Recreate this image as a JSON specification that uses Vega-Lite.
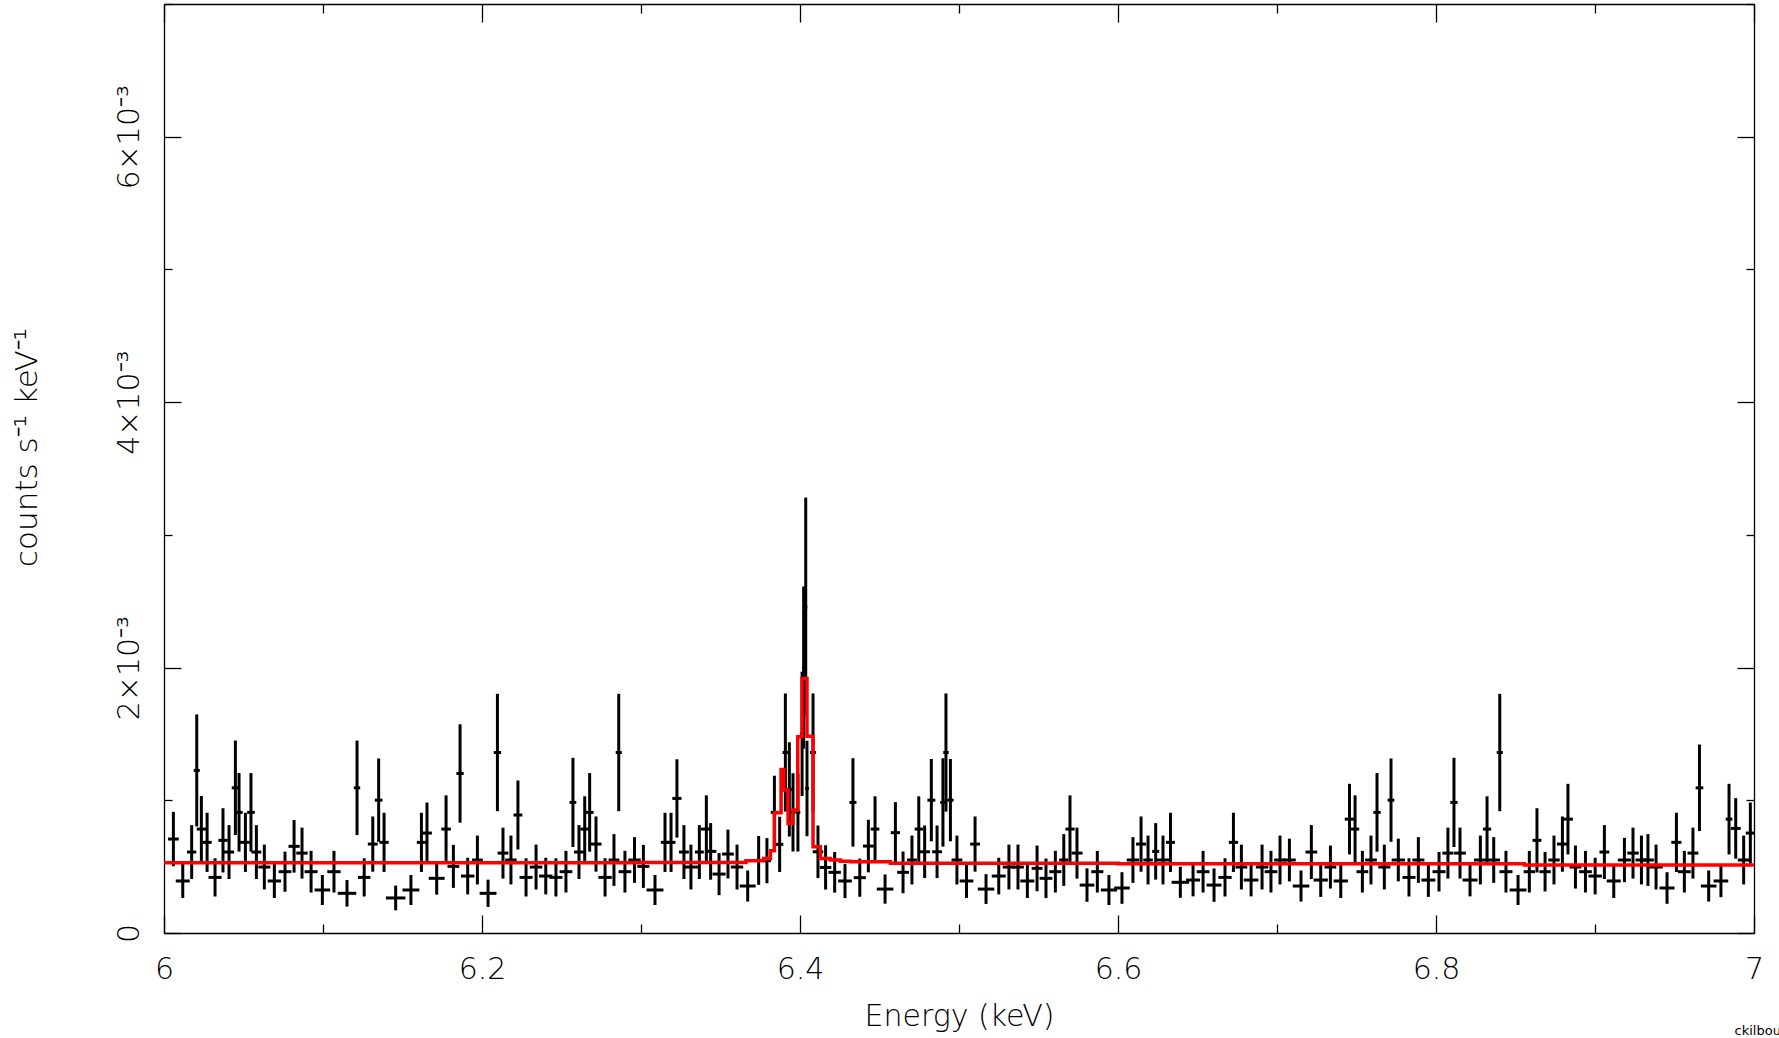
{
  "$schema": "https://vega.github.io/schema/vega-lite/v6.json",
  "width": 1590,
  "height": 929,
  "autosize": "none",
  "padding": {"left": 164, "top": 4, "right": 25, "bottom": 105},
  "background": "white",
  "config": {
    "view": {"stroke": null},
    "axis": {
      "grid": false,
      "domainColor": "black",
      "domainWidth": 1.3,
      "tickColor": "black",
      "tickWidth": 1.3,
      "labelFont": "DejaVu Sans",
      "labelFontWeight": 200,
      "labelFontSize": 30,
      "labelColor": "black",
      "labelFlush": false,
      "labelOverlap": false,
      "labelBound": false,
      "titleFont": "DejaVu Sans",
      "titleFontWeight": 200,
      "titleFontSize": 30,
      "titleColor": "black"
    }
  },
  "title": {
    "text": "ckilbourne",
    "orient": "bottom",
    "anchor": "end",
    "align": "left",
    "dx": -29,
    "dy": 4,
    "offset": 0,
    "baseline": "alphabetic",
    "font": "DejaVu Sans",
    "fontSize": 13,
    "fontWeight": "normal",
    "color": "black"
  },
  "datasets": {
    "spectrum": [
      {"energy": 6.0059, "halfwidth": 0.0034, "rate": 0.000708, "err": 0.000205},
      {"energy": 6.0118, "halfwidth": 0.0044, "rate": 0.000392, "err": 0.000128},
      {"energy": 6.0174, "halfwidth": 0.0029, "rate": 0.000610, "err": 0.000203},
      {"energy": 6.0206, "halfwidth": 0.0019, "rate": 0.001225, "err": 0.000422},
      {"energy": 6.0235, "halfwidth": 0.0029, "rate": 0.000783, "err": 0.000250},
      {"energy": 6.0271, "halfwidth": 0.0029, "rate": 0.000683, "err": 0.000223},
      {"energy": 6.0321, "halfwidth": 0.0041, "rate": 0.000419, "err": 0.000144},
      {"energy": 6.0371, "halfwidth": 0.0029, "rate": 0.000698, "err": 0.000242},
      {"energy": 6.0409, "halfwidth": 0.0032, "rate": 0.000610, "err": 0.000203},
      {"energy": 6.0449, "halfwidth": 0.0023, "rate": 0.001094, "err": 0.000356},
      {"energy": 6.0472, "halfwidth": 0.0023, "rate": 0.000909, "err": 0.000296},
      {"energy": 6.0512, "halfwidth": 0.0037, "rate": 0.000683, "err": 0.000223},
      {"energy": 6.0547, "halfwidth": 0.0024, "rate": 0.000909, "err": 0.000296},
      {"energy": 6.0581, "halfwidth": 0.0031, "rate": 0.000610, "err": 0.000203},
      {"energy": 6.0631, "halfwidth": 0.0038, "rate": 0.000497, "err": 0.000169},
      {"energy": 6.0694, "halfwidth": 0.0042, "rate": 0.000392, "err": 0.000128},
      {"energy": 6.0761, "halfwidth": 0.0040, "rate": 0.000462, "err": 0.000151},
      {"energy": 6.0818, "halfwidth": 0.0035, "rate": 0.000653, "err": 0.000198},
      {"energy": 6.0868, "halfwidth": 0.0036, "rate": 0.000602, "err": 0.000192},
      {"energy": 6.0925, "halfwidth": 0.0041, "rate": 0.000462, "err": 0.000157},
      {"energy": 6.0996, "halfwidth": 0.0049, "rate": 0.000324, "err": 0.000113},
      {"energy": 6.1069, "halfwidth": 0.0042, "rate": 0.000462, "err": 0.000157},
      {"energy": 6.1151, "halfwidth": 0.0058, "rate": 0.000299, "err": 0.000100},
      {"energy": 6.1214, "halfwidth": 0.0020, "rate": 0.001094, "err": 0.000356},
      {"energy": 6.1259, "halfwidth": 0.0039, "rate": 0.000419, "err": 0.000144},
      {"energy": 6.1313, "halfwidth": 0.0031, "rate": 0.000670, "err": 0.000208},
      {"energy": 6.1350, "halfwidth": 0.0024, "rate": 0.001001, "err": 0.000314},
      {"energy": 6.1384, "halfwidth": 0.0029, "rate": 0.000683, "err": 0.000223},
      {"energy": 6.1457, "halfwidth": 0.0061, "rate": 0.000264, "err": 0.000093},
      {"energy": 6.1553, "halfwidth": 0.0053, "rate": 0.000324, "err": 0.000113},
      {"energy": 6.1619, "halfwidth": 0.0029, "rate": 0.000683, "err": 0.000223},
      {"energy": 6.1654, "halfwidth": 0.0031, "rate": 0.000753, "err": 0.000230},
      {"energy": 6.1715, "halfwidth": 0.0050, "rate": 0.000412, "err": 0.000123},
      {"energy": 6.1774, "halfwidth": 0.0030, "rate": 0.000783, "err": 0.000254},
      {"energy": 6.1820, "halfwidth": 0.0037, "rate": 0.000502, "err": 0.000162},
      {"energy": 6.1862, "halfwidth": 0.0023, "rate": 0.001202, "err": 0.000371},
      {"energy": 6.1910, "halfwidth": 0.0042, "rate": 0.000429, "err": 0.000138},
      {"energy": 6.1971, "halfwidth": 0.0034, "rate": 0.000550, "err": 0.000184},
      {"energy": 6.2038, "halfwidth": 0.0053, "rate": 0.000299, "err": 0.000103},
      {"energy": 6.2097, "halfwidth": 0.0023, "rate": 0.001360, "err": 0.000442},
      {"energy": 6.2132, "halfwidth": 0.0034, "rate": 0.000602, "err": 0.000192},
      {"energy": 6.2182, "halfwidth": 0.0036, "rate": 0.000550, "err": 0.000184},
      {"energy": 6.2226, "halfwidth": 0.0028, "rate": 0.000889, "err": 0.000260},
      {"energy": 6.2277, "halfwidth": 0.0041, "rate": 0.000419, "err": 0.000144},
      {"energy": 6.2340, "halfwidth": 0.0039, "rate": 0.000497, "err": 0.000169},
      {"energy": 6.2401, "halfwidth": 0.0042, "rate": 0.000429, "err": 0.000138},
      {"energy": 6.2465, "halfwidth": 0.0041, "rate": 0.000419, "err": 0.000144},
      {"energy": 6.2528, "halfwidth": 0.0040, "rate": 0.000462, "err": 0.000157},
      {"energy": 6.2572, "halfwidth": 0.0021, "rate": 0.000984, "err": 0.000336},
      {"energy": 6.2610, "halfwidth": 0.0031, "rate": 0.000610, "err": 0.000203},
      {"energy": 6.2646, "halfwidth": 0.0028, "rate": 0.000783, "err": 0.000247},
      {"energy": 6.2677, "halfwidth": 0.0025, "rate": 0.000909, "err": 0.000296},
      {"energy": 6.2717, "halfwidth": 0.0035, "rate": 0.000670, "err": 0.000208},
      {"energy": 6.2774, "halfwidth": 0.0042, "rate": 0.000419, "err": 0.000144},
      {"energy": 6.2830, "halfwidth": 0.0034, "rate": 0.000550, "err": 0.000195},
      {"energy": 6.2860, "halfwidth": 0.0019, "rate": 0.001360, "err": 0.000442},
      {"energy": 6.2899, "halfwidth": 0.0040, "rate": 0.000462, "err": 0.000157},
      {"energy": 6.2959, "halfwidth": 0.0039, "rate": 0.000550, "err": 0.000172},
      {"energy": 6.3015, "halfwidth": 0.0038, "rate": 0.000502, "err": 0.000162},
      {"energy": 6.3088, "halfwidth": 0.0053, "rate": 0.000324, "err": 0.000113},
      {"energy": 6.3151, "halfwidth": 0.0026, "rate": 0.000683, "err": 0.000223},
      {"energy": 6.3189, "halfwidth": 0.0028, "rate": 0.000683, "err": 0.000223},
      {"energy": 6.3226, "halfwidth": 0.0029, "rate": 0.001014, "err": 0.000295},
      {"energy": 6.3270, "halfwidth": 0.0031, "rate": 0.000610, "err": 0.000203},
      {"energy": 6.3314, "halfwidth": 0.0047, "rate": 0.000497, "err": 0.000169},
      {"energy": 6.3367, "halfwidth": 0.0028, "rate": 0.000610, "err": 0.000203},
      {"energy": 6.3411, "halfwidth": 0.0034, "rate": 0.000783, "err": 0.000254},
      {"energy": 6.3438, "halfwidth": 0.0036, "rate": 0.000615, "err": 0.000213},
      {"energy": 6.3491, "halfwidth": 0.0041, "rate": 0.000444, "err": 0.000159},
      {"energy": 6.3547, "halfwidth": 0.0037, "rate": 0.000595, "err": 0.000184},
      {"energy": 6.3604, "halfwidth": 0.0039, "rate": 0.000497, "err": 0.000169},
      {"energy": 6.3671, "halfwidth": 0.0050, "rate": 0.000354, "err": 0.000117},
      {"energy": 6.3740, "halfwidth": 0.0025, "rate": 0.000547, "err": 0.000184},
      {"energy": 6.3792, "halfwidth": 0.0025, "rate": 0.000545, "err": 0.000170},
      {"energy": 6.3839, "halfwidth": 0.0023, "rate": 0.000909, "err": 0.000276},
      {"energy": 6.3872, "halfwidth": 0.0023, "rate": 0.000668, "err": 0.000208},
      {"energy": 6.3908, "halfwidth": 0.0018, "rate": 0.001360, "err": 0.000445},
      {"energy": 6.3933, "halfwidth": 0.0017, "rate": 0.001082, "err": 0.000355},
      {"energy": 6.3956, "halfwidth": 0.0015, "rate": 0.000909, "err": 0.000295},
      {"energy": 6.3987, "halfwidth": 0.0015, "rate": 0.000909, "err": 0.000295},
      {"energy": 6.4013, "halfwidth": 0.0012, "rate": 0.001501, "err": 0.000468},
      {"energy": 6.4023, "halfwidth": 0.0010, "rate": 0.002000, "err": 0.000611},
      {"energy": 6.4036, "halfwidth": 0.0010, "rate": 0.002455, "err": 0.000826},
      {"energy": 6.4044, "halfwidth": 0.0012, "rate": 0.001089, "err": 0.000360},
      {"energy": 6.4082, "halfwidth": 0.0019, "rate": 0.001360, "err": 0.000445},
      {"energy": 6.4113, "halfwidth": 0.0033, "rate": 0.000612, "err": 0.000198},
      {"energy": 6.4161, "halfwidth": 0.0036, "rate": 0.000494, "err": 0.000167},
      {"energy": 6.4218, "halfwidth": 0.0039, "rate": 0.000457, "err": 0.000153},
      {"energy": 6.4283, "halfwidth": 0.0043, "rate": 0.000392, "err": 0.000129},
      {"energy": 6.4333, "halfwidth": 0.0022, "rate": 0.000984, "err": 0.000333},
      {"energy": 6.4376, "halfwidth": 0.0038, "rate": 0.000417, "err": 0.000144},
      {"energy": 6.4430, "halfwidth": 0.0034, "rate": 0.000655, "err": 0.000198},
      {"energy": 6.4472, "halfwidth": 0.0027, "rate": 0.000783, "err": 0.000247},
      {"energy": 6.4535, "halfwidth": 0.0052, "rate": 0.000331, "err": 0.000110},
      {"energy": 6.4600, "halfwidth": 0.0029, "rate": 0.000756, "err": 0.000230},
      {"energy": 6.4648, "halfwidth": 0.0037, "rate": 0.000457, "err": 0.000157},
      {"energy": 6.4704, "halfwidth": 0.0031, "rate": 0.000550, "err": 0.000184},
      {"energy": 6.4747, "halfwidth": 0.0026, "rate": 0.000783, "err": 0.000247},
      {"energy": 6.4784, "halfwidth": 0.0034, "rate": 0.000612, "err": 0.000198},
      {"energy": 6.4826, "halfwidth": 0.0025, "rate": 0.001001, "err": 0.000310},
      {"energy": 6.4862, "halfwidth": 0.0031, "rate": 0.000612, "err": 0.000198},
      {"energy": 6.4899, "halfwidth": 0.0017, "rate": 0.000984, "err": 0.000333},
      {"energy": 6.4918, "halfwidth": 0.0017, "rate": 0.001360, "err": 0.000445},
      {"energy": 6.4946, "halfwidth": 0.0020, "rate": 0.001001, "err": 0.000310},
      {"energy": 6.4987, "halfwidth": 0.0034, "rate": 0.000550, "err": 0.000184},
      {"energy": 6.5047, "halfwidth": 0.0043, "rate": 0.000392, "err": 0.000128},
      {"energy": 6.5101, "halfwidth": 0.0031, "rate": 0.000670, "err": 0.000208},
      {"energy": 6.5170, "halfwidth": 0.0052, "rate": 0.000331, "err": 0.000112},
      {"energy": 6.5250, "halfwidth": 0.0044, "rate": 0.000429, "err": 0.000138},
      {"energy": 6.5314, "halfwidth": 0.0039, "rate": 0.000497, "err": 0.000169},
      {"energy": 6.5371, "halfwidth": 0.0037, "rate": 0.000497, "err": 0.000169},
      {"energy": 6.5430, "halfwidth": 0.0044, "rate": 0.000392, "err": 0.000128},
      {"energy": 6.5491, "halfwidth": 0.0034, "rate": 0.000487, "err": 0.000172},
      {"energy": 6.5547, "halfwidth": 0.0040, "rate": 0.000412, "err": 0.000149},
      {"energy": 6.5606, "halfwidth": 0.0038, "rate": 0.000462, "err": 0.000157},
      {"energy": 6.5659, "halfwidth": 0.0029, "rate": 0.000550, "err": 0.000195},
      {"energy": 6.5698, "halfwidth": 0.0029, "rate": 0.000783, "err": 0.000254},
      {"energy": 6.5742, "halfwidth": 0.0035, "rate": 0.000602, "err": 0.000192},
      {"energy": 6.5805, "halfwidth": 0.0046, "rate": 0.000361, "err": 0.000126},
      {"energy": 6.5870, "halfwidth": 0.0038, "rate": 0.000462, "err": 0.000157},
      {"energy": 6.5943, "halfwidth": 0.0051, "rate": 0.000324, "err": 0.000113},
      {"energy": 6.6025, "halfwidth": 0.0049, "rate": 0.000339, "err": 0.000119},
      {"energy": 6.6094, "halfwidth": 0.0039, "rate": 0.000550, "err": 0.000172},
      {"energy": 6.6145, "halfwidth": 0.0032, "rate": 0.000670, "err": 0.000208},
      {"energy": 6.6189, "halfwidth": 0.0030, "rate": 0.000550, "err": 0.000184},
      {"energy": 6.6237, "halfwidth": 0.0022, "rate": 0.000615, "err": 0.000213},
      {"energy": 6.6283, "halfwidth": 0.0040, "rate": 0.000550, "err": 0.000184},
      {"energy": 6.6330, "halfwidth": 0.0028, "rate": 0.000683, "err": 0.000223},
      {"energy": 6.6392, "halfwidth": 0.0055, "rate": 0.000382, "err": 0.000117},
      {"energy": 6.6472, "halfwidth": 0.0044, "rate": 0.000399, "err": 0.000123},
      {"energy": 6.6535, "halfwidth": 0.0040, "rate": 0.000462, "err": 0.000157},
      {"energy": 6.6604, "halfwidth": 0.0047, "rate": 0.000361, "err": 0.000126},
      {"energy": 6.6673, "halfwidth": 0.0042, "rate": 0.000419, "err": 0.000144},
      {"energy": 6.6726, "halfwidth": 0.0029, "rate": 0.000683, "err": 0.000223},
      {"energy": 6.6776, "halfwidth": 0.0037, "rate": 0.000497, "err": 0.000169},
      {"energy": 6.6837, "halfwidth": 0.0046, "rate": 0.000399, "err": 0.000123},
      {"energy": 6.6906, "halfwidth": 0.0039, "rate": 0.000497, "err": 0.000169},
      {"energy": 6.6962, "halfwidth": 0.0040, "rate": 0.000462, "err": 0.000157},
      {"energy": 6.7019, "halfwidth": 0.0037, "rate": 0.000550, "err": 0.000184},
      {"energy": 6.7078, "halfwidth": 0.0040, "rate": 0.000550, "err": 0.000161},
      {"energy": 6.7151, "halfwidth": 0.0052, "rate": 0.000354, "err": 0.000117},
      {"energy": 6.7216, "halfwidth": 0.0037, "rate": 0.000610, "err": 0.000203},
      {"energy": 6.7275, "halfwidth": 0.0045, "rate": 0.000399, "err": 0.000127},
      {"energy": 6.7336, "halfwidth": 0.0037, "rate": 0.000497, "err": 0.000162},
      {"energy": 6.7401, "halfwidth": 0.0045, "rate": 0.000392, "err": 0.000128},
      {"energy": 6.7456, "halfwidth": 0.0030, "rate": 0.000858, "err": 0.000266},
      {"energy": 6.7491, "halfwidth": 0.0026, "rate": 0.000783, "err": 0.000254},
      {"energy": 6.7537, "halfwidth": 0.0037, "rate": 0.000462, "err": 0.000157},
      {"energy": 6.7591, "halfwidth": 0.0037, "rate": 0.000550, "err": 0.000184},
      {"energy": 6.7629, "halfwidth": 0.0023, "rate": 0.000909, "err": 0.000296},
      {"energy": 6.7675, "halfwidth": 0.0038, "rate": 0.000497, "err": 0.000169},
      {"energy": 6.7717, "halfwidth": 0.0021, "rate": 0.001001, "err": 0.000314},
      {"energy": 6.7763, "halfwidth": 0.0042, "rate": 0.000550, "err": 0.000161},
      {"energy": 6.7830, "halfwidth": 0.0041, "rate": 0.000419, "err": 0.000144},
      {"energy": 6.7889, "halfwidth": 0.0038, "rate": 0.000550, "err": 0.000172},
      {"energy": 6.7952, "halfwidth": 0.0044, "rate": 0.000399, "err": 0.000127},
      {"energy": 6.8019, "halfwidth": 0.0041, "rate": 0.000462, "err": 0.000149},
      {"energy": 6.8075, "halfwidth": 0.0035, "rate": 0.000602, "err": 0.000192},
      {"energy": 6.8113, "halfwidth": 0.0023, "rate": 0.000984, "err": 0.000336},
      {"energy": 6.8151, "halfwidth": 0.0037, "rate": 0.000602, "err": 0.000192},
      {"energy": 6.8214, "halfwidth": 0.0047, "rate": 0.000399, "err": 0.000123},
      {"energy": 6.8279, "halfwidth": 0.0040, "rate": 0.000550, "err": 0.000184},
      {"energy": 6.8321, "halfwidth": 0.0026, "rate": 0.000783, "err": 0.000247},
      {"energy": 6.8363, "halfwidth": 0.0040, "rate": 0.000550, "err": 0.000172},
      {"energy": 6.8401, "halfwidth": 0.0019, "rate": 0.001360, "err": 0.000442},
      {"energy": 6.8440, "halfwidth": 0.0041, "rate": 0.000462, "err": 0.000157},
      {"energy": 6.8516, "halfwidth": 0.0053, "rate": 0.000324, "err": 0.000113},
      {"energy": 6.8587, "halfwidth": 0.0036, "rate": 0.000462, "err": 0.000157},
      {"energy": 6.8635, "halfwidth": 0.0028, "rate": 0.000698, "err": 0.000242},
      {"energy": 6.8686, "halfwidth": 0.0036, "rate": 0.000462, "err": 0.000149},
      {"energy": 6.8742, "halfwidth": 0.0036, "rate": 0.000550, "err": 0.000184},
      {"energy": 6.8795, "halfwidth": 0.0034, "rate": 0.000670, "err": 0.000208},
      {"energy": 6.8830, "halfwidth": 0.0031, "rate": 0.000858, "err": 0.000266},
      {"energy": 6.8877, "halfwidth": 0.0037, "rate": 0.000497, "err": 0.000162},
      {"energy": 6.8940, "halfwidth": 0.0040, "rate": 0.000462, "err": 0.000157},
      {"energy": 6.9001, "halfwidth": 0.0042, "rate": 0.000429, "err": 0.000138},
      {"energy": 6.9059, "halfwidth": 0.0031, "rate": 0.000610, "err": 0.000203},
      {"energy": 6.9118, "halfwidth": 0.0044, "rate": 0.000392, "err": 0.000128},
      {"energy": 6.9185, "halfwidth": 0.0041, "rate": 0.000550, "err": 0.000167},
      {"energy": 6.9239, "halfwidth": 0.0036, "rate": 0.000602, "err": 0.000192},
      {"energy": 6.9292, "halfwidth": 0.0037, "rate": 0.000550, "err": 0.000184},
      {"energy": 6.9333, "halfwidth": 0.0037, "rate": 0.000550, "err": 0.000195},
      {"energy": 6.9384, "halfwidth": 0.0042, "rate": 0.000497, "err": 0.000169},
      {"energy": 6.9453, "halfwidth": 0.0047, "rate": 0.000339, "err": 0.000119},
      {"energy": 6.9512, "halfwidth": 0.0032, "rate": 0.000683, "err": 0.000223},
      {"energy": 6.9562, "halfwidth": 0.0040, "rate": 0.000462, "err": 0.000157},
      {"energy": 6.9616, "halfwidth": 0.0034, "rate": 0.000602, "err": 0.000192},
      {"energy": 6.9657, "halfwidth": 0.0024, "rate": 0.001094, "err": 0.000326},
      {"energy": 6.9715, "halfwidth": 0.0049, "rate": 0.000354, "err": 0.000117},
      {"energy": 6.9792, "halfwidth": 0.0046, "rate": 0.000392, "err": 0.000122},
      {"energy": 6.9843, "halfwidth": 0.0021, "rate": 0.000858, "err": 0.000266},
      {"energy": 6.9885, "halfwidth": 0.0031, "rate": 0.000788, "err": 0.000228},
      {"energy": 6.9935, "halfwidth": 0.0037, "rate": 0.000550, "err": 0.000184},
      {"energy": 6.9977, "halfwidth": 0.0029, "rate": 0.000753, "err": 0.000230}
    ],
    "model": [
      {"energy": 6.0, "rate": 0.000530},
      {"energy": 6.15, "rate": 0.000529},
      {"energy": 6.3, "rate": 0.000532},
      {"energy": 6.366, "rate": 0.000545},
      {"energy": 6.3772, "rate": 0.000562},
      {"energy": 6.3814, "rate": 0.000620},
      {"energy": 6.3839, "rate": 0.000906},
      {"energy": 6.3881, "rate": 0.001232},
      {"energy": 6.3898, "rate": 0.001077},
      {"energy": 6.3925, "rate": 0.000826},
      {"energy": 6.3956, "rate": 0.000926},
      {"energy": 6.3986, "rate": 0.001478},
      {"energy": 6.4013, "rate": 0.001918},
      {"energy": 6.4044, "rate": 0.001483},
      {"energy": 6.4082, "rate": 0.000650},
      {"energy": 6.4128, "rate": 0.000562},
      {"energy": 6.4191, "rate": 0.000550},
      {"energy": 6.4254, "rate": 0.000540},
      {"energy": 6.4317, "rate": 0.000537},
      {"energy": 6.4568, "rate": 0.000525},
      {"energy": 6.6, "rate": 0.000522},
      {"energy": 6.8556, "rate": 0.000512},
      {"energy": 7.0, "rate": 0.000512}
    ]
  },
  "layer": [
    {
      "data": {"name": "spectrum"},
      "mark": {"type": "errorbar", "thickness": 3, "color": "black", "clip": true},
      "encoding": {
        "x": {
          "field": "energy",
          "type": "quantitative",
          "scale": {"domain": [6, 7], "nice": false, "zero": false},
          "axis": {
            "orient": "bottom",
            "values": [6, 6.1, 6.2, 6.3, 6.4, 6.5, 6.6, 6.7, 6.8, 6.9, 7],
            "tickSize": {"condition": {"test": "abs(datum.value*5 - round(datum.value*5)) < 0.01", "value": -18}, "value": -9},
            "labelExpr": "abs(datum.value*5 - round(datum.value*5)) < 0.01 ? format(datum.value, '.1~f') : ''",
            "labelPadding": 39,
            "labelBaseline": "top",
            "title": "Energy (keV)",
            "titlePadding": 8
          }
        },
        "y": {
          "field": "rate",
          "type": "quantitative",
          "scale": {"domain": [0, 0.007], "nice": false, "zero": true},
          "axis": {
            "orient": "left",
            "values": [0, 0.001, 0.002, 0.003, 0.004, 0.005, 0.006, 0.007],
            "tickSize": {"condition": {"test": "abs(datum.value*500 - round(datum.value*500)) < 0.01", "value": -17}, "value": -8},
            "labelExpr": "abs(datum.value*500 - round(datum.value*500)) < 0.01 ? (datum.value == 0 ? '0' : round(datum.value*1000) + '×10⁻³') : ''",
            "labelAngle": -90,
            "labelAlign": "center",
            "labelBaseline": "bottom",
            "labelPadding": 37,
            "title": "counts  s⁻¹  keV⁻¹",
            "titleFontSize": 31,
            "titleY": 443,
            "titlePadding": 62
          }
        },
        "yError": {"field": "err"}
      }
    },
    {
      "data": {"name": "spectrum"},
      "mark": {"type": "errorbar", "thickness": 3, "color": "black", "clip": true},
      "encoding": {
        "x": {
          "field": "energy",
          "type": "quantitative",
          "scale": {"domain": [6, 7], "nice": false, "zero": false},
          "axis": {
            "orient": "top",
            "values": [6, 6.1, 6.2, 6.3, 6.4, 6.5, 6.6, 6.7, 6.8, 6.9, 7],
            "tickSize": {"condition": {"test": "abs(datum.value*5 - round(datum.value*5)) < 0.01", "value": -18}, "value": -9},
            "labels": false,
            "title": null
          }
        },
        "xError": {"field": "halfwidth"},
        "y": {
          "field": "rate",
          "type": "quantitative",
          "scale": {"domain": [0, 0.007], "nice": false, "zero": true},
          "axis": {
            "orient": "right",
            "values": [0, 0.001, 0.002, 0.003, 0.004, 0.005, 0.006, 0.007],
            "tickSize": {"condition": {"test": "abs(datum.value*500 - round(datum.value*500)) < 0.01", "value": -17}, "value": -8},
            "labels": false,
            "title": null
          }
        }
      }
    },
    {
      "data": {"name": "model"},
      "mark": {"type": "line", "interpolate": "step-after", "color": "#ff0000", "strokeWidth": 3.5, "clip": true},
      "encoding": {
        "x": {"field": "energy", "type": "quantitative", "axis": null},
        "y": {"field": "rate", "type": "quantitative", "axis": null}
      }
    }
  ],
  "resolve": {"axis": {"x": "independent", "y": "independent"}}
}
